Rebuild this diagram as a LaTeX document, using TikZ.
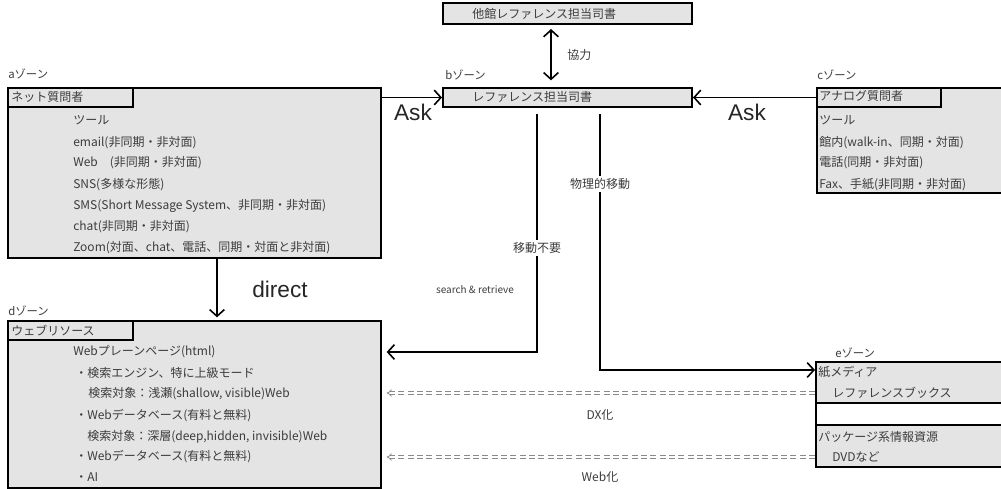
\documentclass[tikz,border=0pt]{standalone}
\usepackage{fontspec}
\setmainfont{Noto Sans CJK JP}
\newfontfamily\arialf{Liberation Sans}
\usetikzlibrary{arrows.meta,fit,calc}
\definecolor{boxfill}{HTML}{E4E4E4}
\definecolor{txt}{HTML}{3C3C3C}
\definecolor{dashc}{HTML}{8A8A8A}
\begin{document}
\begin{tikzpicture}[x=0.75pt,y=-0.75pt,
  zbox/.style={draw=black, line width=1.5pt, fill=boxfill, inner sep=0pt},
  wbox/.style={draw=black, line width=1.5pt, inner sep=0pt},
  hdr/.style={draw=black, line width=1.5pt, inner sep=0pt},
  txtn/.style={anchor=west, inner sep=0pt, text=txt, font=\fontsize{9pt}{11pt}\selectfont},
  zlab/.style={txtn, font=\fontsize{8.5pt}{10pt}\selectfont},
  big/.style={inner sep=0pt, text=black!85, font=\arialf\fontsize{17pt}{19pt}\selectfont},
  arr/.style={line width=1.2pt, -{Straight Barb[length=5pt,width=11pt,line width=1.2pt]}},
  dblarr/.style={line width=1.2pt, {Straight Barb[length=5pt,width=11pt,line width=1.2pt]}-{Straight Barb[length=5pt,width=11pt,line width=1.2pt]}},
  dasharr/.style={draw=dashc, line width=0.6pt, double=white, double distance=1.3pt, dash pattern=on 4.5pt off 2.5pt, -{Implies}},
  midlab/.style={fill=white, inner sep=2pt, text=txt, font=\fontsize{9pt}{11pt}\selectfont}
]
\useasboundingbox (0,0) rectangle (1001,489);

% boxes
\node[zbox, fit={(443,3) (692,24)}] (T) {};
\node[txtn] (Tt) at (472,14) {他館レファレンス担当司書};

\node[zlab] (bz) at (445,75) {bゾーン};
\node[zbox, fit={(443,88) (692,107)}] (B) {};
\node[txtn] (Bt) at (472,97) {レファレンス担当司書};

\node[zlab] (az) at (8,74) {aゾーン};
\node[zbox, fit={(8,88) (381,258)}] (A) {};
\node[hdr, fit={(8,88) (133,107)}] (Ah) {};
\node[txtn] (Aht) at (11,97) {ネット質問者};
\node[txtn] (a1) at (73,120) {ツール};
\node[txtn] (a2) at (73,143) {email(非同期・非対面)};
\node[txtn] (a3) at (73,163) {Web　(非同期・非対面)};
\node[txtn] (a4) at (73,185) {SNS(多様な形態)};
\node[txtn] (a5) at (73,206) {SMS(Short Message System、非同期・非対面)};
\node[txtn] (a6) at (73,227) {chat(非同期・非対面)};
\node[txtn] (a7) at (73,248) {Zoom(対面、chat、電話、同期・対面と非対面)};

\node[zlab] (cz) at (817,75) {cゾーン};
\node[zbox, fit={(817,88) (1003,193)}] (C) {};
\node[hdr, fit={(817,88) (941,107)}] (Ch) {};
\node[txtn] (Cht) at (819,96) {アナログ質問者};
\node[txtn] (c1) at (819,120) {ツール};
\node[txtn] (c2) at (819,143) {館内(walk-in、同期・対面)};
\node[txtn] (c3) at (819,163) {電話(同期・非対面)};
\node[txtn] (c4) at (819,185) {Fax、手紙(非同期・非対面)};

\node[zlab] (dz) at (8,311) {dゾーン};
\node[zbox, fit={(8,321) (381,488)}] (D) {};
\node[hdr, fit={(8,321) (133,340)}] (Dh) {};
\node[txtn] (Dht) at (11,331) {ウェブリソース};
\node[txtn] (d1) at (73,352) {Webプレーンページ(html)};
\node[txtn] (d2) at (75,373) {・検索エンジン、特に上級モード};
\node[txtn] (d3) at (88,394) {検索対象：浅瀬(shallow, visible)Web};
\node[txtn] (d4) at (75,416) {・Webデータベース(有料と無料)};
\node[txtn] (d5) at (87,437) {検索対象：深層(deep,hidden, invisible)Web};
\node[txtn] (d6) at (75,457) {・Webデータベース(有料と無料)};
\node[txtn] (d7) at (75,477) {・AI};

\node[zlab] (ez) at (835,353) {eゾーン};
\node[zbox, fit={(816,362) (1003,403)}] (E1) {};
\node[wbox, fit={(816,403) (1003,425)}] (E2) {};
\node[zbox, fit={(816,425) (1003,467)}] (E3) {};
\node[txtn] (e1) at (818,372) {紙メディア};
\node[txtn] (e2) at (832,393) {レファレンスブックス};
\node[txtn] (e3) at (818,437) {パッケージ系情報資源};
\node[txtn] (e4) at (832,457) {DVDなど};

% connectors
\coordinate (kx) at (551,0);
\draw[dblarr, shorten <=3pt, shorten >=5pt] (T.south -| kx) -- (B.north -| kx);
\node[txtn] (kl) at (567,55) {協力};

\draw[arr] (A.east |- B.west) -- (B.west);
\node[big] (ask1) at (413,112) {Ask};
\draw[arr] (C.west |- B.east) -- (B.east);
\node[big] (ask2) at (747,112) {Ask};

\coordinate (dx) at (217,0);
\draw[arr, shorten >=2pt] (A.south -| dx) -- (D.north -| dx);
\node[big] (dir) at (280,289) {direct};

\coordinate (m1) at (537,352);
\draw[arr, shorten <=4.5pt, shorten >=3.5pt] (B.south -| m1) -- (m1) -- (D.east |- m1);
\node[midlab] (ml1) at (537,248) {移動不要};
\node[inner sep=0pt, text=txt, font=\fontsize{7.5pt}{9pt}\selectfont] (sr) at (475,290) {search \& retrieve};

\coordinate (m2) at (600,370);
\draw[arr, shorten <=4.5pt] (B.south -| m2) -- (m2) -- (E1.west |- m2);
\node[midlab] (ml2) at (600,184) {物理的移動};

\coordinate (dy1) at (0,393);
\coordinate (dy2) at (0,457);
\draw[dasharr, shorten >=3.5pt] (E1.west |- dy1) -- (D.east |- dy1);
\draw[dasharr, shorten >=3.5pt] (E3.west |- dy2) -- (D.east |- dy2);
\node[inner sep=0pt, text=txt, font=\fontsize{9pt}{11pt}\selectfont] (dxl) at (600,415) {DX化};
\node[inner sep=0pt, text=txt, font=\fontsize{9pt}{11pt}\selectfont] (wbl) at (600,477) {Web化};
\end{tikzpicture}
\end{document}
